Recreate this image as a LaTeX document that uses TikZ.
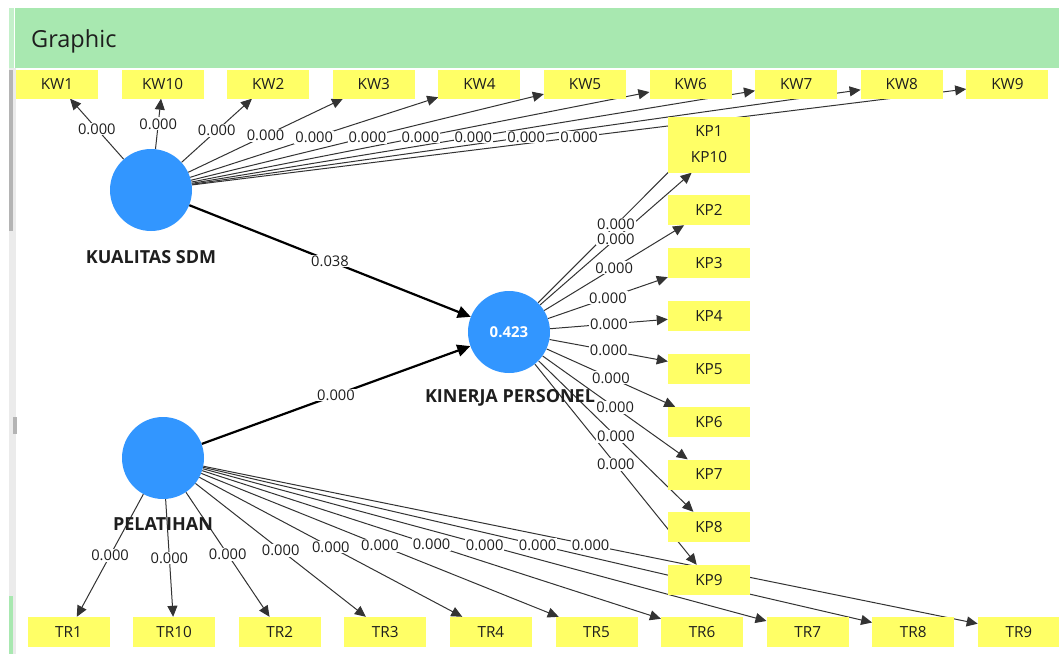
\documentclass[tikz,border=0pt]{standalone}
\usepackage{fontspec}
\setmainfont{Open Sans}
\usetikzlibrary{arrows.meta}
\definecolor{hdr}{HTML}{A8E8B0}
\definecolor{hdrl}{HTML}{C4F0CA}
\definecolor{ybox}{HTML}{FFFF66}
\definecolor{lvcol}{HTML}{3296FF}
\definecolor{lncol}{HTML}{333333}
\definecolor{sbar}{HTML}{EBEBEB}
\definecolor{sthumb}{HTML}{B4B4B4}
\definecolor{txt}{HTML}{1E1E1E}
\pgfdeclarelayer{bglayer}
\pgfdeclarelayer{edgelayer}
\pgfdeclarelayer{labellayer}
\pgfsetlayers{bglayer,edgelayer,labellayer,main}
\begin{document}
\begin{tikzpicture}[x=1pt,y=-1pt,
  ind/.style={fill=ybox, minimum width=82pt, minimum height=30pt, inner sep=0pt,
    font=\fontsize{15.3}{17}\selectfont, text=txt},
  lvar/.style={circle, fill=lvcol, minimum size=82pt, inner sep=0pt},
  lvname/.style={font=\fontsize{18}{20}\selectfont\bfseries, text=txt, inner sep=0pt},
  meas/.style={draw=lncol, line width=1pt, -{Triangle[length=11pt,width=10pt]}},
  struct/.style={draw=black, line width=2.2pt, -{Triangle[length=13pt,width=12pt]}},
  elab/.style={fill=white, inner sep=1pt, font=\fontsize{14.7}{16}\selectfont, text=txt},
]
\useasboundingbox (0,0) rectangle (1059,654);
\begin{pgfonlayer}{bglayer}
\fill[white] (0,0) rectangle (1059,654);
% header and side bar
\fill[hdr] (15,8) rectangle (1059,68);
\fill[hdrl] (9,8) rectangle (14,68);
\fill[sbar] (9,68) rectangle (16,654);
\fill[sthumb] (9,70) rectangle (13,231);
\fill[sthumb] (13,417) rectangle (17,434);
\fill[hdr] (9,596) rectangle (13,654);
\end{pgfonlayer}
\node[anchor=base west, inner sep=0pt, font=\fontsize{23.5}{26}\selectfont, text=txt] (title) at (31,47) {Graphic};

% latent variables
\node[lvar] (ksdm) at (151,190) {};
\node[lvar, font=\fontsize{15}{17}\selectfont\bfseries, text=white] (kper) at (509,332) {0.423};
\node[lvar] (pel) at (163,458) {};
\node[lvname] (ksdmname) at (151,257) {KUALITAS SDM};
\node[lvname] (kpername) at (510,398) {KINERJA PERSONEL};
\node[lvname] (pelname) at (163,524) {PELATIHAN};

% indicators
\foreach \n [count=\i from 0] in {KW1,KW10,KW2,KW3,KW4,KW5,KW6,KW7,KW8,KW9}
  \node[ind, minimum height=29pt] (\n) at ({57+105.6*\i},84) {\n};
\foreach \n [count=\i from 0] in {TR1,TR10,TR2,TR3,TR4,TR5,TR6,TR7,TR8,TR9}
  \node[ind] (\n) at ({68.5+105.6*\i},632) {\n};
\foreach \n/\y in {KP1/131.5,KP10/157.5,KP2/210,KP3/263,KP4/316,KP5/369,KP6/422,KP7/474.5,KP8/527,KP9/580}
  \node[ind] (\n) at (709,\y) {\n};

% edges
\begin{pgfonlayer}{edgelayer}
\foreach \n in {KW1,KW10,KW2,KW3,KW4,KW5,KW6,KW7,KW8,KW9}
  \draw[meas] (ksdm) -- (\n);
\foreach \n in {KP1,KP10,KP2,KP3,KP4,KP5,KP6,KP7,KP8,KP9}
  \draw[meas] (kper) -- (\n);
\foreach \n in {TR1,TR10,TR2,TR3,TR4,TR5,TR6,TR7,TR8,TR9}
  \draw[meas] (pel) -- (\n);
\draw[struct] (ksdm) -- (kper);
\draw[struct] (pel) -- (kper);
\end{pgfonlayer}

% edge labels
\begin{pgfonlayer}{labellayer}
\foreach \n in {KW1,KW10,KW2,KW3,KW4,KW5,KW6,KW7,KW8,KW9}
  \path (ksdm) -- (\n) node[midway, elab] {0.000};
\foreach \n in {KP10,KP1,KP2,KP3,KP4,KP5,KP6,KP7,KP8,KP9}
  \path (kper) -- (\n) node[midway, elab] {0.000};
\foreach \n in {TR1,TR10,TR2,TR3,TR4,TR5,TR6,TR7,TR8,TR9}
  \path (pel) -- (\n) node[midway, elab] {0.000};
\path (ksdm) -- (kper) node[midway, elab] {0.038};
\path (pel) -- (kper) node[midway, elab] {0.000};
\end{pgfonlayer}
\end{tikzpicture}
\end{document}
